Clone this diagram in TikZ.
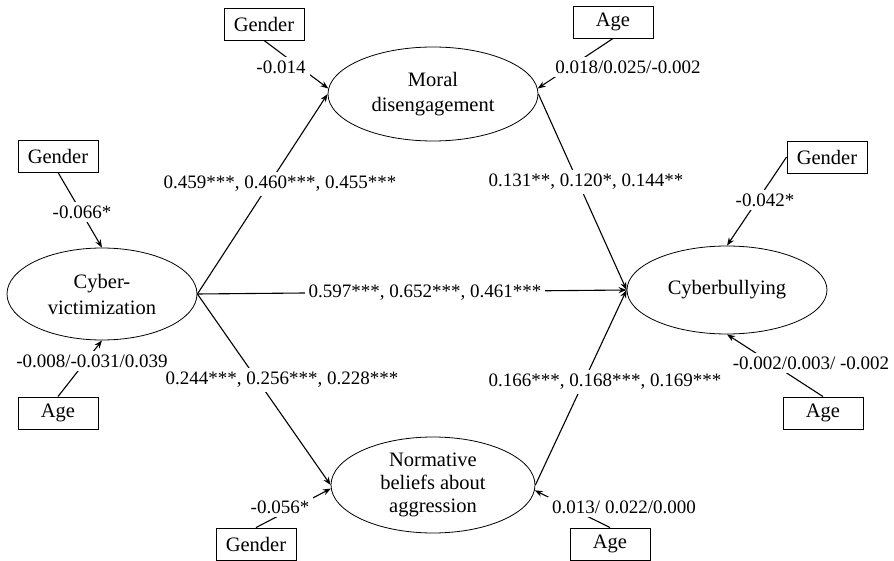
\documentclass[tikz,border=0pt]{standalone}
\usepackage{fontspec}
\setmainfont{Liberation Serif}
\usetikzlibrary{arrows.meta,shapes.geometric}
\begin{document}
\begin{tikzpicture}[x=1pt,y=-1pt,
  font=\fontsize{19}{23}\selectfont,
  latent/.style={draw, ellipse, line width=0.8pt, inner sep=0pt, align=center, font=\fontsize{20.5}{25}\selectfont},
  covbox/.style={draw, line width=0.9pt, minimum width=80pt, minimum height=32pt, inner sep=0pt, font=\fontsize{20.5}{24}\selectfont},
  coef/.style={fill=white, inner sep=4pt},
  pathlab/.style={fill=white, inner sep=4pt},
  arr/.style={line width=1.1pt, -{Stealth[length=8pt,width=6pt]}},
]
\useasboundingbox (0,0) rectangle (894,561);
% latent variables
\node[latent, minimum width=190pt, minimum height=92pt, font=\fontsize{20.5}{26}\selectfont] (cv) at (102,294) {Cyber-\\victimization};
\node[latent, minimum width=210pt, minimum height=94pt] (moral) at (433,94) {Moral\\disengagement};
\node[latent, minimum width=200pt, minimum height=88pt] (cb) at (727,290) {Cyberbullying};
\node[latent, minimum width=204pt, minimum height=96pt, font=\fontsize{20.5}{23}\selectfont] (norm) at (433,485) {Normative\\beliefs about\\aggression};
% covariates
\node[covbox] (gtl) at (264,24) {Gender};
\node[covbox] (atop) at (613,22) {Age};
\node[covbox] (gl) at (58,156) {Gender};
\node[covbox] (al) at (58,413) {Age};
\node[covbox] (gr) at (827,157) {Gender};
\node[covbox] (ar) at (823,413) {Age};
\node[covbox] (gb) at (256,544) {Gender};
\node[covbox] (ab) at (610,544) {Age};
% covariate paths
\draw[arr] (gtl.south) -- (moral.177);
\draw[arr] (atop.south) -- (moral.3);
\draw[arr] (gl.south) -- (cv.north);
\draw[arr] (al.north) -- (cv.south);
\draw[arr] (gr.west) -- (cb.north);
\draw[arr] (ar.north) -- (cb.south);
\draw[arr] (gb.north) -- (norm.182);
\draw[arr] (ab.north) -- (norm.-3);
% structural paths
\draw[arr] (cv.east) -- (moral.west);
\draw[arr] (moral.east) -- (cb.west);
\draw[arr] (cv.east) -- (cb.west);
\draw[arr] (cv.east) -- (norm.west);
\draw[arr] (norm.east) -- (cb.west);
% covariate coefficients
\node[coef] (l1) at (281,67) {-0.014};
\node[coef] (l2) at (628,67) {0.018/0.025/-0.002};
\node[coef] (l3) at (82,212) {-0.066*};
\node[coef] (l4) at (92,361) {-0.008/-0.031/0.039};
\node[coef] (l5) at (765,200) {-0.042*};
\node[coef] (l6) at (811,363) {-0.002/0.003/ -0.002};
\node[coef] (l7) at (280,507) {-0.056*};
\node[coef] (l8) at (624,507) {0.013/ 0.022/0.000};
% structural coefficients
\node[pathlab] (p1) at (280,184) {0.459***, 0.460***, 0.455***};
\node[pathlab] (p2) at (586,182) {0.131**, 0.120*, 0.144**};
\node[pathlab] (p3) at (425,293) {0.597***, 0.652***, 0.461***};
\node[pathlab] (p4) at (282,380) {0.244***, 0.256***, 0.228***};
\node[pathlab] (p5) at (605,382) {0.166***, 0.168***, 0.169***};
\end{tikzpicture}
\end{document}
